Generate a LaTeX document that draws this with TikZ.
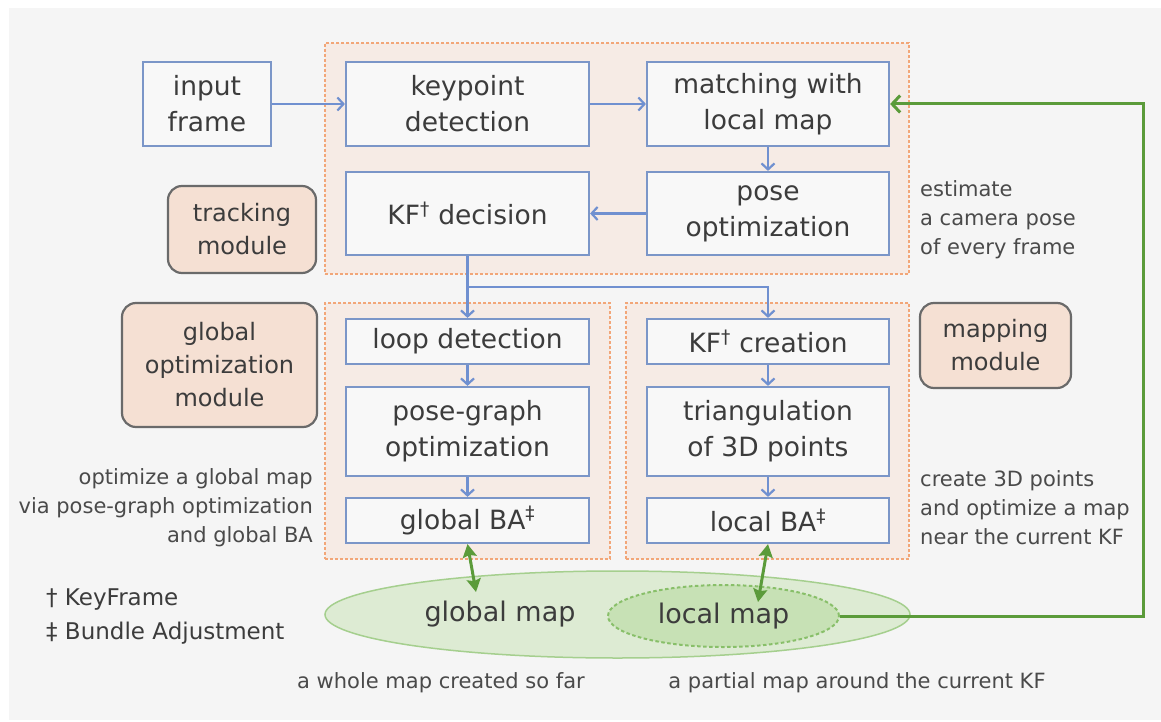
\documentclass[tikz,border=0pt]{standalone}
\usepackage{fontspec}
\setmainfont{DejaVu Sans}
\usetikzlibrary{arrows.meta,shapes.geometric,calc}
\definecolor{bgc}{HTML}{F5F5F5}
\definecolor{grpfill}{HTML}{F6EBE5}
\definecolor{grpline}{HTML}{F2A678}
\definecolor{boxline}{HTML}{7B96C8}
\definecolor{boxfill}{HTML}{F8F8F8}
\definecolor{modfill}{HTML}{F5E0D3}
\definecolor{modline}{HTML}{6A6A6A}
\definecolor{arrblue}{HTML}{7090D0}
\definecolor{grn}{HTML}{5B9B3A}
\definecolor{gmfill}{HTML}{DDEBD3}
\definecolor{gmline}{HTML}{A5CF8E}
\definecolor{lmfill}{HTML}{C7E1B5}
\definecolor{lmline}{HTML}{88BF69}
\definecolor{txt}{HTML}{3C3C3C}
\definecolor{smalltxt}{HTML}{4A4A4A}
\tikzset{
  grp/.style={draw=grpline, fill=grpfill, line width=1.5pt, dash pattern=on 3pt off 2pt, inner sep=0pt},
  box/.style={draw=boxline, fill=boxfill, line width=2.2pt, inner sep=0pt, align=center, text=txt,
    font=\fontsize{26.5}{36}\selectfont},
  modbox/.style={draw=modline, fill=modfill, line width=2.2pt, rounded corners=14pt, inner sep=0pt,
    align=center, text=txt, font=\fontsize{24}{33}\selectfont},
  note/.style={text=smalltxt, inner sep=0pt, font=\fontsize{21}{29}\selectfont},
  maptxt/.style={text=txt, inner sep=0pt, font=\fontsize{27}{32}\selectfont},
  barrow/.style={draw=arrblue, line width=2.2pt, -{Straight Barb[length=6pt,width=13pt]}},
  bline/.style={draw=arrblue, line width=2.2pt},
  gdarrow/.style={draw=grn, line width=3pt, {Stealth[length=13pt,width=14pt,inset=2pt]}-{Stealth[length=13pt,width=14pt,inset=2pt]}},
  gfarrow/.style={draw=grn, line width=3pt, -{Straight Barb[length=8pt,width=17pt]}},
}
\begin{document}
\begin{tikzpicture}[x=1pt,y=-1pt]
\useasboundingbox (0,0) rectangle (1161,722);
\fill[white] (0,0) rectangle (1161,722);
\fill[bgc] (9,8) rectangle (1161,720);

% groups
\node[grp, minimum width=584pt, minimum height=231pt] (gtrk) at (617,158.5) {};
\node[grp, minimum width=285pt, minimum height=256pt] (gglo) at (467.5,431) {};
\node[grp, minimum width=283pt, minimum height=256pt] (gmap) at (767.5,431) {};

% tracking boxes
\node[box, minimum width=128pt, minimum height=84pt] (inp) at (207,104) {input\\frame};
\node[box, minimum width=243pt, minimum height=84pt] (kp) at (467.5,104) {keypoint\\detection};
\node[box, minimum width=242pt, minimum height=84pt] (mt) at (768,104) {matching with\\local map};
\node[box, minimum width=243pt, minimum height=83pt] (kfd) at (467.5,213.5) {KF\textsuperscript{†} decision};
\node[box, minimum width=242pt, minimum height=83pt] (po) at (768,213.5) {pose\\optimization};

% global optimization boxes
\node[box, minimum width=243pt, minimum height=45pt] (ld) at (467.5,341.5) {loop detection};
\node[box, minimum width=243pt, minimum height=89pt] (pg) at (467.5,431.5) {pose-graph\\optimization};
\node[box, minimum width=243pt, minimum height=45pt] (gba) at (467.5,520.5) {global BA\textsuperscript{‡}};

% mapping boxes
\node[box, minimum width=242pt, minimum height=45pt] (kfc) at (768,341.5) {KF\textsuperscript{†} creation};
\node[box, minimum width=242pt, minimum height=89pt] (tri) at (768,431.5) {triangulation\\of 3D points};
\node[box, minimum width=242pt, minimum height=45pt] (lba) at (768,520.5) {local BA\textsuperscript{‡}};

% module labels
\node[modbox, minimum width=148pt, minimum height=87pt] (trm) at (242,229.5) {tracking\\module};
\node[modbox, minimum width=195pt, minimum height=124pt] (gom) at (219.5,365) {global\\optimization\\module};
\node[modbox, minimum width=151pt, minimum height=85pt] (mpm) at (995.5,345.5) {mapping\\module};

% notes
\node[note, anchor=west, align=left] (ntrk) at (920,220) {estimate\\a camera pose\\of every frame};
\node[note, anchor=east, align=right] (nglo) at (313,508) {optimize a global map\\via pose-graph optimization\\and global BA};
\node[note, anchor=west, align=left] (nmap) at (920,508) {create 3D points\\and optimize a map\\near the current KF};

% maps
\node[ellipse, draw=gmline, fill=gmfill, line width=1.5pt, minimum width=585pt, minimum height=87pt, inner sep=0pt] (gm) at (617.5,614.5) {};
\node[maptxt] (gmt) at (500,614) {global map};
\node[ellipse, draw=lmline, fill=lmfill, line width=2pt, dash pattern=on 3.5pt off 2.5pt, minimum width=231pt, minimum height=62pt, inner sep=0pt, maptxt] (lm) at (723.5,616) {local map};

\node[note, anchor=north] (ngm) at (441,672) {a whole map created so far};
\node[note, anchor=north] (nlm) at (857,672) {a partial map around the current KF};

% legend
\node[note, anchor=west, font=\fontsize{23}{34}\selectfont, text=txt, align=left] (leg) at (46,617) {† KeyFrame\\‡ Bundle Adjustment};

% blue connectors
\draw[barrow] (inp.east) -- (kp.west);
\draw[barrow] (kp.east) -- (mt.west);
\draw[barrow] (mt.south) -- (po.north);
\draw[barrow] (po.west) -- (kfd.east);
\coordinate (br) at (467.5,287);
\draw[bline] (kfd.south) -- (br);
\draw[barrow] (br) -- (ld.north);
\draw[barrow] (br) -| (kfc.north);
\draw[barrow] (ld.south) -- (pg.north);
\draw[barrow] (pg.south) -- (gba.north);
\draw[barrow] (kfc.south) -- (tri.north);
\draw[barrow] (tri.south) -- (lba.north);

% green connectors
\coordinate (gtip) at (476,592);
\coordinate (ltip) at (758,602);
\draw[gdarrow] (gba.south) -- (gtip);
\draw[gdarrow] (lba.south) -- (ltip);
\coordinate (fb) at (1143,360);
\draw[gfarrow] (lm.east) -| (fb) |- (mt.east);
\end{tikzpicture}
\end{document}
